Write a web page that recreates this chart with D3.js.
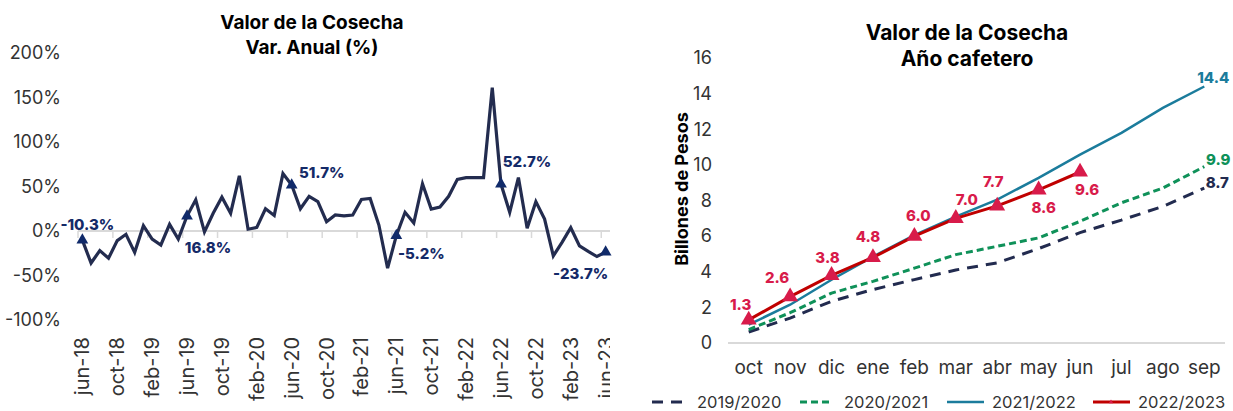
<!DOCTYPE html>
<html>
<head>
<meta charset="utf-8">
<script src="https://cdn.jsdelivr.net/npm/d3@7"></script>
<style>
  body { margin: 0; background: #fff; }
  svg { display: block; font-family: Inter, "Open Sans", sans-serif; }
</style>
</head>
<body>
<svg id="chart" width="1233" height="411"></svg>
<script>
// ---- left chart data: annual variation, jun-18 .. jun-23 ----
const monthNames = ["ene", "feb", "mar", "abr", "may", "jun", "jul", "ago", "sep", "oct", "nov", "dic"];
const varAnual = [
  -10.3, -36, -22, -30.6, -10.8, -3.7, -24, 6, -9, -15.7, 7.5, -9,
  16.8, 35, -1, 20, 38, 20, 62, 2, 4, 25, 17.5, 64.5,
  51.7, 25, 39, 33, 10.5, 18, 17, 18, 35.4, 36.5, 6.7, -41.8,
  -5.2, 21, 9, 53, 24.6, 27, 39, 58, 60, 60, 60, 161,
  52.7, 21, 60, 3, 33, 13.4, -28, -12.7, 3.7, -16.8, -23, -28.7,
  -23.7
];
const leftTicks = [-100, -50, 0, 50, 100, 150, 200];
const leftLabelled = [0, 12, 24, 36, 48, 60];

// ---- right chart data: año cafetero, billones de pesos ----
const mesesCafe = ["oct", "nov", "dic", "ene", "feb", "mar", "abr", "may", "jun", "jul", "ago", "sep"];
const s1920 = [0.62, 1.4, 2.34, 3.0, 3.56, 4.1, 4.5, 5.3, 6.2, 6.9, 7.67, 8.7];
const s2021 = [0.75, 1.7, 2.8, 3.46, 4.2, 4.96, 5.43, 5.9, 6.83, 7.87, 8.7, 9.9];
const s2122 = [1.03, 2.15, 3.55, 4.85, 6.05, 7.1, 8.05, 9.27, 10.58, 11.8, 13.2, 14.4];
const s2223 = [1.3, 2.6, 3.8, 4.8, 6.0, 7.0, 7.7, 8.6, 9.6];
const rightTicks = [0, 2, 4, 6, 8, 10, 12, 14, 16];
const serieNames = ["2019/2020", "2020/2021", "2021/2022", "2022/2023"];

const svg = d3.select("#chart");
const navy = "#232c4f";
const labelNavy = "#142a68";
const fmt1 = v => v.toFixed(1);

// categories jun-18 .. jun-23
const cats = [];
for (let i = 0; i < varAnual.length; i++) {
  const m = (5 + i) % 12, y = 18 + Math.floor((5 + i) / 12);
  cats.push(monthNames[m] + "-" + y);
}

// ================= LEFT =================
const L = svg.append("g");
const xL = d3.scaleBand().domain(cats).range([78, 610]);
const yL = d3.scaleLinear().domain([-100, 200]).range([320, 53]);

L.append("text").attr("x", 312).attr("y", 29).attr("text-anchor", "middle")
  .attr("font-size", 19).attr("font-weight", 700).text("Valor de la Cosecha");
L.append("text").attr("x", 312).attr("y", 54).attr("text-anchor", "middle")
  .attr("font-size", 19).attr("font-weight", 700).text("Var. Anual (%)");

L.append("g").selectAll("text").data(leftTicks).join("text")
  .attr("x", 61).attr("y", d => yL(d)).attr("dy", "0.35em")
  .attr("text-anchor", "end").attr("font-size", 18).attr("fill", "#333")
  .text(d => d + "%");

// zero line with category tick marks
L.append("line").attr("x1", 78).attr("x2", 610)
  .attr("y1", yL(0)).attr("y2", yL(0)).attr("stroke", "#d9d9d9").attr("stroke-width", 2);
const tickIdx = d3.range(0, cats.length, 4);
L.append("g").selectAll("line").data(tickIdx).join("line")
  .attr("x1", d => xL(cats[d])).attr("x2", d => xL(cats[d]))
  .attr("y1", yL(0)).attr("y2", yL(0) + 7)
  .attr("stroke", "#d9d9d9").attr("stroke-width", 1.5);

svg.append("clipPath").attr("id", "clipL").append("rect")
  .attr("x", 0).attr("y", 0).attr("width", 610).attr("height", 411);
L.append("g").attr("clip-path", "url(#clipL)").selectAll("text").data(tickIdx).join("text")
  .attr("transform", d => `translate(${xL(cats[d]) + xL.bandwidth() / 2},337) rotate(-90)`)
  .attr("dy", "0.35em").attr("text-anchor", "end").attr("font-size", 20).attr("fill", "#333")
  .text(d => cats[d]);

const lineL = d3.line().x((d, i) => xL(cats[i]) + xL.bandwidth() / 2).y(d => yL(d));
L.append("path").datum(varAnual).attr("d", lineL)
  .attr("fill", "none").attr("stroke", navy).attr("stroke-width", 3.2).attr("stroke-linejoin", "miter");

L.append("g").selectAll("path").data(leftLabelled).join("path")
  .attr("d", d3.symbol(d3.symbolTriangle, 60))
  .attr("transform", d => `translate(${xL(cats[d]) + xL.bandwidth() / 2},${yL(varAnual[d])})`)
  .attr("fill", "#102a6a");

const leftOff = { 0: [5, -15], 12: [21, 32], 24: [30, -12], 36: [25, 18], 48: [26, -22], 60: [-25, 22] };
L.append("g").selectAll("text").data(leftLabelled).join("text")
  .attr("x", d => xL(cats[d]) + xL.bandwidth() / 2 + leftOff[d][0])
  .attr("y", d => yL(varAnual[d]) + leftOff[d][1])
  .attr("dy", "0.35em").attr("text-anchor", "middle")
  .attr("font-size", 15).attr("font-weight", 800).attr("fill", labelNavy)
  .text(d => fmt1(varAnual[d]) + "%");

// ================= RIGHT =================
const R = svg.append("g");
const xR = d3.scaleBand().domain(mesesCafe).range([728, 1225]);
const yR = d3.scaleLinear().domain([0, 16]).range([343, 58]);
const cx = i => xR(mesesCafe[i]) + xR.bandwidth() / 2;

R.append("text").attr("x", 967).attr("y", 40).attr("text-anchor", "middle")
  .attr("font-size", 21).attr("font-weight", 700).text("Valor de la Cosecha");
R.append("text").attr("x", 967).attr("y", 66).attr("text-anchor", "middle")
  .attr("font-size", 21).attr("font-weight", 700).text("Año cafetero");

R.append("g").selectAll("text").data(rightTicks).join("text")
  .attr("x", 712).attr("y", d => yR(d)).attr("dy", "0.35em")
  .attr("text-anchor", "end").attr("font-size", 18).attr("fill", "#333").text(d => d);

R.append("text").attr("transform", "translate(682,189) rotate(-90)")
  .attr("dy", "0.35em").attr("text-anchor", "middle")
  .attr("font-size", 18).attr("font-weight", 700).text("Billones de Pesos");

R.append("line").attr("x1", 728).attr("x2", 1225)
  .attr("y1", yR(0)).attr("y2", yR(0)).attr("stroke", "#d9d9d9").attr("stroke-width", 2);

R.append("g").selectAll("text").data(mesesCafe).join("text")
  .attr("x", (d, i) => cx(i)).attr("y", 367).attr("dy", "0.35em")
  .attr("text-anchor", "middle").attr("font-size", 19).attr("fill", "#333").text(d => d);

const series = [
  { name: serieNames[0], data: s1920, color: "#222b4f", width: 3, dash: "11,8" },
  { name: serieNames[1], data: s2021, color: "#0f9159", width: 3, dash: "7,4" },
  { name: serieNames[2], data: s2122, color: "#1b7c9c", width: 2.5, dash: null },
  { name: serieNames[3], data: s2223, color: "#c00000", width: 3, dash: null }
];
const lineR = d3.line().x((d, i) => cx(i)).y(d => yR(d));
series.forEach(s => {
  R.append("path").datum(s.data).attr("d", lineR)
    .attr("fill", "none").attr("stroke", s.color).attr("stroke-width", s.width)
    .attr("stroke-dasharray", s.dash);
});

const crimson = "#d81b4a";
R.append("g").selectAll("path").data(s2223).join("path")
  .attr("d", d3.symbol(d3.symbolTriangle, 110))
  .attr("transform", (d, i) => `translate(${cx(i)},${yR(d)})`)
  .attr("fill", crimson);

const redOff = [[-8, -15], [-13, -19], [-4, -18], [-5, -21], [4, -20], [11, -19], [-4, -24], [5, 18], [7, 18]];
R.append("g").selectAll("text").data(s2223).join("text")
  .attr("x", (d, i) => cx(i) + redOff[i][0]).attr("y", (d, i) => yR(d) + redOff[i][1])
  .attr("dy", "0.35em").attr("text-anchor", "middle")
  .attr("font-size", 15).attr("font-weight", 800).attr("fill", crimson)
  .text(d => fmt1(d));

// end labels
const endOff = [[13, -5], [14, -7], [9, -9]];
series.slice(0, 3).forEach((s, k) => {
  const last = s.data.length - 1;
  R.append("text").attr("x", cx(last) + endOff[k][0]).attr("y", yR(s.data[last]) + endOff[k][1])
    .attr("dy", "0.35em").attr("text-anchor", "middle")
    .attr("font-size", 15).attr("font-weight", 800).attr("fill", s.color)
    .text(fmt1(s.data[last]));
});

// legend
const legX = [652, 800, 947, 1093];
const leg = R.append("g").selectAll("g").data(series).join("g")
  .attr("transform", (d, i) => `translate(${legX[i]},402)`);
leg.append("line").attr("x1", 0).attr("x2", (d, i) => i === 1 ? 31 : 37).attr("y1", 0).attr("y2", 0)
  .attr("stroke", d => d.color).attr("stroke-width", d => d.width)
  .attr("stroke-dasharray", d => d.dash);
leg.filter((d, i) => i === 3).append("path")
  .attr("d", d3.symbol(d3.symbolTriangle, 8)).attr("transform", "translate(18,0)").attr("fill", crimson);
leg.append("text").attr("x", (d, i) => i === 1 ? 44 : 45).attr("y", 0).attr("dy", "0.35em")
  .attr("font-size", 16.5).attr("fill", "#333").text(d => d.name);
</script>
</body>
</html>
